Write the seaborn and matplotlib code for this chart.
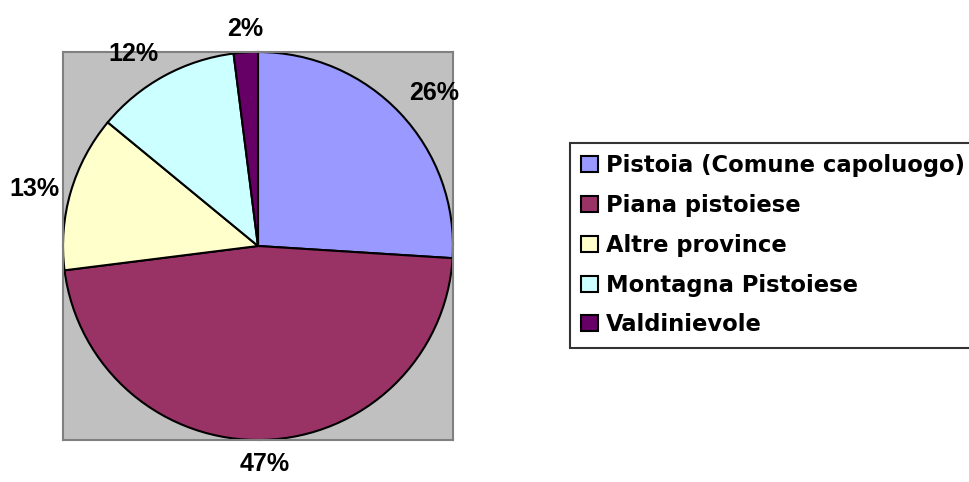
import matplotlib
matplotlib.use("Agg")
import matplotlib.pyplot as plt
import seaborn as sns

categories = ['Pistoia (Comune capoluogo)', 'Piana pistoiese', 'Altre province',
              'Montagna Pistoiese', 'Valdinievole']
shares = [26, 47, 13, 12, 2]
pct_labels = ['26%', '47%', '13%', '12%', '2%']
colors = ['#9999FF', '#993366', '#FFFFCC', '#CCFFFF', '#660066']

sns.set_style("white")
plt.rcParams['font.family'] = ['Liberation Sans', 'DejaVu Sans']
plt.rcParams['text.color'] = 'black'

W, H = 969, 482
fig = plt.figure(figsize=(W / 100, H / 100), dpi=100)
# grey plot area: left 63, right 453, top 52, bottom 440 (pixels)
ax = fig.add_axes([63 / W, 1 - 440 / H, 390 / W, 388 / H])

wedges, texts = ax.pie(shares, colors=colors, labels=pct_labels, startangle=90,
                       counterclock=False, labeldistance=1.06,
                       wedgeprops=dict(edgecolor='black', linewidth=1.5),
                       textprops=dict(fontsize=18, fontweight='bold', color='black'))
ax.set_frame_on(True)
ax.set_facecolor('#C0C0C0')
for s in ax.spines.values():
    s.set_visible(True)
    s.set_color('#808080')
    s.set_linewidth(1.5)
ax.set_xlim(-1.0, 1.0)
ax.set_ylim(-1.0, 1.0)
ax.set_aspect('auto')

# place labels just outside the rim, Excel style
for t in texts:
    x, y = t.get_position()
    r = (x ** 2 + y ** 2) ** 0.5
    cx, cy = x / r, y / r
    t.set_ha('left' if cx > 0.3 else 'right' if cx < -0.3 else 'center')
    t.set_va('bottom' if cy > 0.3 else 'top' if cy < -0.3 else 'center')
    t.set_clip_on(False)

leg = fig.legend(wedges, categories, loc='upper left',
                 bbox_to_anchor=(570 / W, 1 - 143 / H), frameon=True,
                 prop=dict(family='DejaVu Sans', size=16.3, weight='bold'),
                 handlelength=0.72, handleheight=0.72, handletextpad=0.36,
                 labelspacing=0.74, borderpad=0.5, borderaxespad=0,
                 fancybox=False)
leg.get_frame().set_edgecolor('black')
leg.get_frame().set_linewidth(1.5)
for h in leg.legend_handles:
    h.set_edgecolor('black')
    h.set_linewidth(1.5)
for txt in leg.get_texts():
    txt.set_color('black')

fig.savefig('out.png', dpi=100)
